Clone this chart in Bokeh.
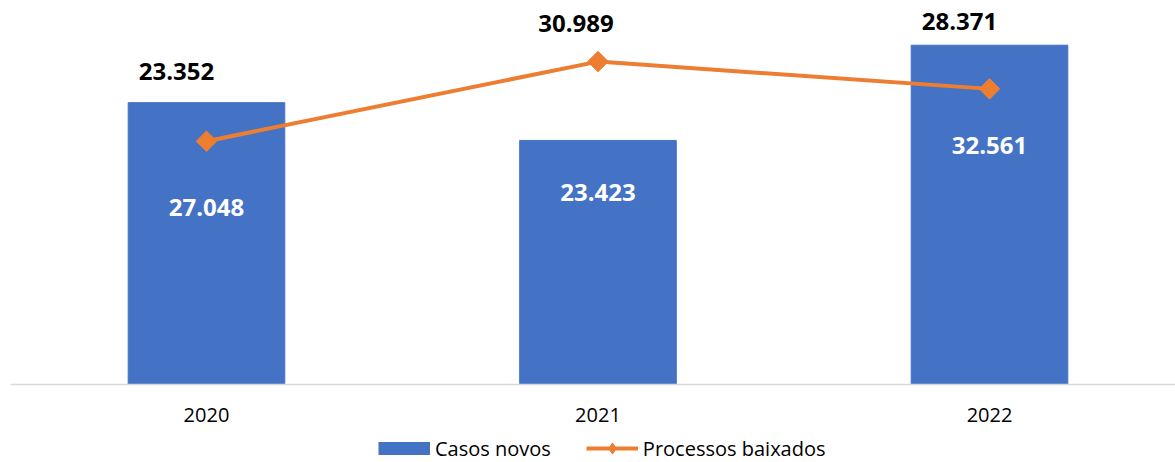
import math
import numpy as np
from bokeh.plotting import figure
from bokeh.layouts import column
from bokeh.models import ColumnDataSource, Range1d, FixedTicker, Legend, LegendItem
from bokeh.embed import file_html
from bokeh.resources import INLINE
from bokeh.core.properties import value

# ---- data ----
years = ["2020", "2021", "2022"]
casos_novos = [27048, 23423, 32561]
processos_baixados = [23352, 30989, 28371]
series_names = ["Casos novos", "Processos baixados"]

# ---- label placement (screen px offsets, as in the original) ----
bar_label_dy = [105, 52, 100]
line_label_dx = [-30, -22, -30]
line_label_dy = [-70, -38, -67]


def fmt(v):
    return f"{v:,}".replace(",", ".")


xs = list(range(len(years)))
src = ColumnDataSource(dict(
    x=xs,
    casos=casos_novos,
    proc=processos_baixados,
    casos_lbl=[fmt(v) for v in casos_novos],
    proc_lbl=[fmt(v) for v in processos_baixados],
    bar_dy=bar_label_dy,
    line_dx=line_label_dx,
    line_dy=line_label_dy,
))

FONT = "Open Sans"
BLUE = "#4472C4"
ORANGE = "#ED7D31"

# ---------------- main chart ----------------
p = figure(width=1175, height=434, output_backend="svg", toolbar_location=None,
           x_range=Range1d(-0.5006, 2.4751), y_range=Range1d(0, 36852),
           y_axis_location=None,
           min_border_left=10, min_border_right=0, min_border_top=0, min_border_bottom=50)
p.outline_line_color = None
p.xgrid.visible = False
p.ygrid.visible = False
p.background_fill_color = "white"
p.border_fill_color = "white"

p.vbar(x="x", top="casos", width=0.4, color=BLUE, source=src)
p.line(x="x", y="proc", line_width=4, color=ORANGE, source=src)
p.scatter(x="x", y="proc", marker="square", angle=math.pi / 4, size=14.5,
          color=ORANGE, source=src)

p.text(x="x", y="casos", text="casos_lbl", y_offset="bar_dy", source=src,
       text_color="white", text_font=value(FONT), text_font_style="bold",
       text_font_size="24px", text_align="center", text_baseline="middle")
p.text(x="x", y="proc", text="proc_lbl", x_offset="line_dx", y_offset="line_dy", source=src,
       text_color="black", text_font=value(FONT), text_font_style="bold",
       text_font_size="24px", text_align="center", text_baseline="middle")

ax = p.xaxis[0]
ax.ticker = FixedTicker(ticks=xs)
ax.major_label_overrides = {i: y for i, y in zip(xs, years)}
ax.axis_line_color = "#D9D9D9"
ax.axis_line_width = 1.5
ax.major_tick_line_color = None
ax.minor_tick_line_color = None
ax.major_tick_out = 0
ax.major_tick_in = 0
ax.minor_tick_out = 0
ax.minor_tick_in = 0
ax.major_label_standoff = 23
ax.major_label_text_font = FONT
ax.major_label_text_font_size = "20px"
ax.major_label_text_color = "black"

# ---------------- legend strip ----------------
q = figure(width=1175, height=28, output_backend="svg", toolbar_location=None,
           x_range=Range1d(0, 1), y_range=Range1d(0, 1),
           x_axis_location=None, y_axis_location=None,
           min_border_left=0, min_border_right=0, min_border_top=0, min_border_bottom=0)
q.outline_line_color = None
q.background_fill_color = "white"
q.border_fill_color = "white"
q.xgrid.visible = False
q.ygrid.visible = False

# legend swatches (a single NaN point: nothing is drawn in the strip itself)
proxy = ColumnDataSource(dict(x=np.array([np.nan]), y=np.array([np.nan])))
sw_bar = q.line(x="x", y="y", source=proxy, line_width=13, line_cap="butt", color=BLUE)
sw_line = q.line(x="x", y="y", source=proxy, line_width=4, color=ORANGE)
sw_mark = q.scatter(x="x", y="y", source=proxy, marker="diamond", size=14, color=ORANGE)

legend = Legend(items=[LegendItem(label=series_names[0], renderers=[sw_bar]),
                       LegendItem(label=series_names[1], renderers=[sw_line, sw_mark])],
                location=(368, 0), orientation="horizontal", padding=0, margin=0,
                spacing=35, glyph_width=52, glyph_height=28, label_standoff=5,
                border_line_color=None, background_fill_alpha=0,
                label_text_font=FONT, label_text_font_size="20px",
                label_text_color="black")
q.add_layout(legend)

layout = column(p, q, spacing=0)
open("out.html", "w").write(file_html(layout, INLINE))
